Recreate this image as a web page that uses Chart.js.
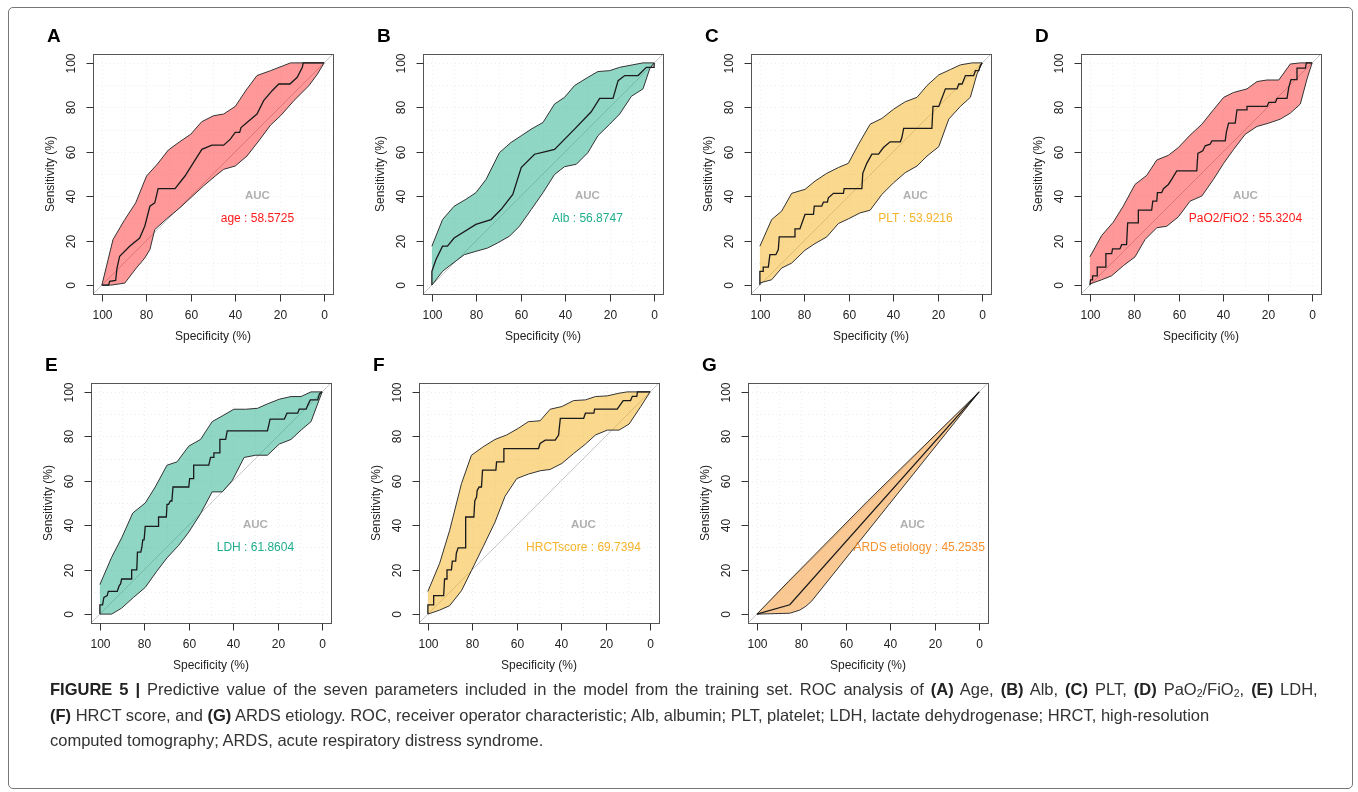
<!DOCTYPE html>
<html>
<head>
<meta charset="utf-8">
<script src="https://cdn.jsdelivr.net/npm/chart.js@4.4.1/dist/chart.umd.min.js"></script>
<style>
  body { margin: 0; background: #fff; width: 1358px; height: 792px; overflow: hidden; position: relative; font-family: "Liberation Sans", Arial, sans-serif; }
  .frame { position: absolute; left: 8px; top: 7px; width: 1345px; height: 782px; border: 1px solid #777; border-radius: 5px; box-sizing: border-box; }
  canvas { position: absolute; }
  .caption { position: absolute; left: 50px; top: 677px; font-size: 16.5px; line-height: 25.5px; color: #333; white-space: nowrap; }
  .caption b { color: #222; }
  .caption .l1 { word-spacing: 2.4px; }
  .caption sub { font-size: 10.5px; vertical-align: -2px; line-height: 0; }
</style>
</head>
<body>
<div class="frame"></div>
<canvas id="pA" width="330" height="340"></canvas>
<canvas id="pB" width="330" height="340"></canvas>
<canvas id="pC" width="330" height="340"></canvas>
<canvas id="pD" width="330" height="340"></canvas>
<canvas id="pE" width="330" height="340"></canvas>
<canvas id="pF" width="330" height="340"></canvas>
<canvas id="pG" width="330" height="340"></canvas>

<div class="caption">
  <div class="l1"><b>FIGURE 5 |</b> Predictive value of the seven parameters included in the model from the training set. ROC analysis of <b>(A)</b> Age, <b>(B)</b> Alb, <b>(C)</b> PLT, <b>(D)</b> PaO<sub>2</sub>/FiO<sub>2</sub>, <b>(E)</b> LDH,</div>
  <div><b>(F)</b> HRCT score, and <b>(G)</b> ARDS etiology. ROC, receiver operator characteristic; Alb, albumin; PLT, platelet; LDH, lactate dehydrogenase; HRCT, high-resolution</div>
  <div>computed tomography; ARDS, acute respiratory distress syndrome.</div>
</div>

<script>
// ---- data: [specificity, sensitivity] in % ----
const panelLetters = ['A', 'B', 'C', 'D', 'E', 'F', 'G'];
const markerNames = ['age', 'Alb', 'PLT', 'PaO2/FiO2', 'LDH', 'HRCTscore', 'ARDS etiology'];
const aucValues = [58.5725, 56.8747, 53.9216, 55.3204, 61.8604, 69.7394, 45.2535];
const xTicks = [100, 80, 60, 40, 20, 0];
const yTicks = [0, 20, 40, 60, 80, 100];

const ageRoc = [[100,0],[97,0],[96.5,1.7],[93.8,2.1],[93.2,7.7],[92,13],[87.5,17.5],[83,21.2],[80.7,26.5],[78.4,35.5],[76.2,37],[74.7,43.4],[67.1,43.4],[62.6,49.1],[58.8,55.1],[55,61.1],[50.5,63],[45.2,63],[42.2,65.7],[40,68.7],[38,68.7],[37.4,70.9],[34.7,73.2],[30.2,77],[27.2,83],[23.4,87.5],[20.4,90.5],[15.4,90.5],[12.1,93.5],[9.8,98],[9.4,100],[0,100]];
const ageHigh = [[100,0],[95,20.5],[90,29],[84.8,37],[79.9,49.1],[75,54.5],[70.1,60.8],[65,64.5],[60,67.9],[55.1,73.5],[49.8,76.2],[45.2,77],[40,80.4],[34.7,88.3],[30.2,94.3],[24.1,96.5],[15.1,100],[0,100]];
const ageLow = [[100,0],[96,0],[89.7,0.9],[84.5,7.7],[80.7,12.2],[78.4,16],[76.2,25],[70.9,29.8],[64.9,34.8],[54.3,44.6],[49,49.1],[45.2,52.1],[40,53.6],[34.7,58.1],[29.4,64.9],[24.1,72],[19.6,76.2],[13.6,83],[6.8,89.8],[3,95],[0,100]];

const albRoc = [[100,0],[100,6.2],[98.2,11.4],[95.2,17.5],[93,17.5],[90,21.2],[80.2,27.3],[73.4,29.5],[68.9,34],[63.6,40.8],[59.8,52.9],[53.8,58.9],[49.3,60],[44.8,61.1],[35.8,70.2],[28.3,78],[24.5,84],[18.5,84],[16.2,92],[13.2,94.3],[7.2,94.3],[3.5,98],[0,98],[0,100]];
const albHigh = [[100,17.5],[95.2,29.5],[90,35.5],[84.7,38.6],[80.2,41.6],[75.6,47.6],[69.6,59.6],[64.4,64.2],[59.8,67.2],[55.3,70.2],[50,73.2],[44.8,81.5],[40.3,84.5],[35.8,89.8],[29.8,93.5],[25.3,96.1],[20,96.5],[15.5,98],[5,100],[0,100]];
const albLow = [[100,0],[95.2,6.2],[91.4,9.2],[85.4,13.7],[80.2,15.2],[74.9,16.7],[70.4,19],[65.1,22],[60.6,26.5],[55.3,34],[50,41.6],[44.8,49.8],[40.3,53.3],[35,54.4],[29.8,59.6],[25.3,67.2],[20,72.4],[15.5,77],[10.2,85],[5,88.3],[2,97.3],[0,100]];

const pltRoc = [[100,0],[100,6.2],[98.5,6.2],[98.5,8.1],[96.2,8.1],[95.5,13.7],[92.8,13.7],[91.7,16],[91.3,21.7],[84.2,21.7],[84.2,25.3],[82,25.3],[79.7,31.8],[75.9,31.8],[75.5,35.5],[72.2,35.5],[71.4,37.3],[69.6,37.3],[69.2,39.3],[66.9,41.3],[62.4,41.3],[62.1,43.4],[54.1,43.4],[53.7,50.3],[51.9,54.8],[49.6,58.9],[46.6,58.9],[44.4,61.9],[41.4,64.5],[36.8,64.5],[36.1,66.4],[35.3,70.5],[22.6,70.5],[22.1,80.4],[19.5,80.4],[16.5,88.3],[11.3,88.3],[10.5,90.5],[9,90.5],[7.5,94.3],[3.8,94.3],[3,96.5],[1.5,96.5],[0.8,98.8],[0,100]];
const pltHigh = [[100,17.5],[94.7,29.5],[90.2,33.3],[85.7,41.3],[79.7,43.1],[75.2,46.8],[69.9,50.3],[64.7,52.9],[60.2,54.8],[55.6,63.4],[50.4,72.4],[45.1,75],[39.8,79.2],[34.6,82.5],[29.3,84.5],[24.8,89.8],[19.5,94.6],[14.3,97],[9.8,99.1],[4.5,100],[0,100]];
const pltLow = [[100,1],[94.7,2.4],[90.2,7.7],[85.7,9.9],[79.7,15.7],[75.2,18.7],[69.9,21.7],[64.7,27.7],[60.2,29.8],[54.9,32.5],[50.4,33.7],[45.1,40.8],[39.8,46.1],[34.6,50.6],[29.3,53.6],[24.8,58.1],[19.5,62.3],[15,74.7],[9.8,80.4],[5.3,84.5],[2.3,95],[0,100]];

const pfRoc = [[100,0],[99.7,2.4],[98.8,2.4],[98.8,4.2],[96.7,4.2],[96.7,8.1],[93.2,8.1],[92.8,14.2],[90.2,14.2],[89.8,16.3],[86.5,16.3],[85.7,18.2],[83.5,18.2],[83,28],[78.2,28],[78.2,33.7],[72.2,33.7],[71.7,37.8],[69.9,37.8],[69.6,41.6],[67.7,41.6],[66.9,43.4],[64.7,45.3],[63.2,47.6],[60.9,51.4],[51.9,51.4],[51.4,59.3],[49.2,60.4],[48.1,62.7],[45.9,63.4],[45.1,64.9],[39.1,64.9],[38.6,68.7],[37.6,72.9],[34.6,72.9],[33.8,78.9],[29.3,78.9],[29.3,80.4],[20.3,80.4],[19.5,82.2],[16.5,82.2],[15.8,84],[11.3,84],[10.5,89],[9.5,92.5],[6.8,92.5],[6.8,97.6],[3,97.6],[2.6,100],[0,100]];
const pfHigh = [[100,12.7],[94.7,22.3],[89.5,28.3],[85,35.5],[79.7,45.3],[74.4,49.4],[69.9,56.3],[64.7,58.4],[60.2,61.9],[54.9,67.5],[49.6,72.4],[44.4,78.9],[39.8,84.5],[35.3,86.7],[29.3,88.3],[24.8,91.6],[20.3,92.3],[15,92.3],[9.8,99.5],[5.3,100],[0,100]];
const pfLow = [[100,0.5],[94.7,2.4],[90.2,4.2],[85,8.7],[79.7,12.7],[75.2,20.5],[69.9,25.8],[65.4,26.5],[60.2,30.7],[54.9,37.8],[49.6,40.1],[44.4,47.6],[39.8,54.8],[35.3,61.1],[30.1,67.9],[24.8,71.4],[19.5,72.9],[14.3,74.7],[9.8,77.4],[5.3,81.5],[2.3,92.8],[0,100]];

const ldhRoc = [[100,0],[100,4.2],[98.8,4.2],[98.2,7.5],[96.7,8.3],[96.2,10.2],[92.2,10.2],[91.3,12.8],[90.7,13.6],[90.2,15.8],[85.7,15.8],[85.7,19.9],[83.4,19.9],[83.1,27.9],[81.6,27.9],[81.1,30.1],[80.7,33.4],[80.1,33.4],[79.6,39.5],[73.6,39.5],[73.6,43.7],[70.1,43.7],[69.8,49.4],[69.1,49.4],[68.3,50.9],[67.6,50.9],[67.1,57.2],[60,57.2],[59.6,61],[58.1,61],[57.8,67],[51,67],[50.2,70.5],[49,70.5],[48.7,72.6],[46.4,72.6],[46,78.6],[43.4,78.6],[42.7,82.5],[24.6,82.5],[23.4,87.7],[17,87.7],[15.8,90.4],[11,90.4],[10.3,92.2],[7.2,92.2],[6.2,94.6],[5.3,96.4],[2,96.4],[1.2,99.1],[0,100]];
const ldhHigh = [[100,13.3],[94.7,25.6],[90.2,34.3],[85.2,45.5],[79.6,50],[75.1,57.2],[69.8,67],[65.3,68.5],[60,75.6],[54.7,78.6],[49.5,86.6],[44.2,89.6],[39.7,92.2],[34.4,92.2],[29.1,92.6],[24.6,94.6],[19.3,96.7],[14,97.9],[9.5,97.9],[5,100],[0,100]];
const ldhLow = [[100,0],[94.7,0],[90.2,2.7],[84.9,7.5],[79.6,12],[74.4,19.3],[69.8,25.3],[64.6,30.9],[60,36.9],[54.7,45.2],[49.5,55],[44.9,55],[40.4,60.2],[35.1,70.5],[29.9,71.5],[24.6,71.5],[19.3,76.5],[14,78.6],[9.5,82.8],[5,86.6],[0,100]];

const hrctRoc = [[100,0],[100,4.2],[97.4,4.2],[97.4,8.3],[92.9,8.3],[92.5,15.8],[91.4,15.8],[91.4,19.9],[89.4,19.9],[89,23.8],[87.5,23.8],[87.2,27.4],[86.4,29.8],[83,29.8],[83,43.7],[79.3,43.7],[78.9,50.9],[78.1,52.7],[77.8,55.7],[76.9,57.2],[75.9,57.2],[75.4,64.8],[69.4,64.8],[69.1,68.5],[65.8,68.5],[65.8,74.5],[50.2,74.5],[49.5,76.8],[47.2,78.3],[42.7,78.3],[41.2,80.6],[40.4,88.1],[29.9,88.1],[29.1,90.4],[25.3,90.4],[25,92.2],[14.8,92.2],[12.1,96.1],[8.8,96.1],[8,98],[6,98],[5.7,100],[0,100]];
const hrctHigh = [[100,10.2],[94.7,22.9],[90.2,37.7],[84.9,58.7],[80.4,71.5],[75.1,75.3],[69.8,78.6],[64.6,80.6],[59.3,83.6],[54.8,86.6],[49.5,87],[45,92.2],[39.7,93.4],[34.4,96.1],[29.1,96.4],[24.6,97.9],[19.3,98.2],[14,99.4],[10.3,100],[0,100]];
const hrctLow = [[100,0],[94.7,1.8],[90.2,3.8],[84.9,10.5],[80.4,19.6],[75.1,30.4],[69.8,41.4],[65.3,53],[60,61],[54.8,63],[49.5,64.5],[45,65.1],[39.7,67.8],[34.4,72.3],[29.1,76.5],[24.6,80.6],[19.3,82.8],[14,82.8],[9.5,85.5],[4.2,93.4],[0,100]];

const ardsRoc = [[100,0],[85.2,4.2],[0,100]];
const ardsHigh = [[100,0],[86,14.5],[50,51],[0,100]];
const ardsLow = [[100,0],[85.2,0.4],[80.7,1.8],[78,3.5],[75.4,5.8],[0,100]];

const rocCurves = [ageRoc, albRoc, pltRoc, pfRoc, ldhRoc, hrctRoc, ardsRoc];
const ciHigh = [ageHigh, albHigh, pltHigh, pfHigh, ldhHigh, hrctHigh, ardsHigh];
const ciLow = [ageLow, albLow, pltLow, pfLow, ldhLow, hrctLow, ardsLow];

// ---- styles / layout ----
const boxes = [[93,54],[423,54],[751,54],[1081,54],[91,383],[419,383],[748,383]];
const fills = ['rgba(255,0,0,0.4)','rgba(31,173,140,0.5)','rgba(245,178,30,0.5)','rgba(255,0,0,0.4)','rgba(31,173,140,0.5)','rgba(245,178,30,0.5)','rgba(245,145,40,0.5)'];
const textColors = ['#ff1a1a','#1fae8c','#f5b42a','#ff1a1a','#1fae8c','#f5b42a','#f7922e'];
const labelX = [30, 30, 30, 30, 30, 30, 27];
const FONT = '"Liberation Sans", Arial, sans-serif';
const PAD = { left: 70, top: 40, right: 20, bottom: 60 };

const rAxes = {
  id: 'rAxes',
  beforeDatasetsDraw(chart) {
    const { ctx, chartArea: a, scales: { x, y } } = chart;
    ctx.save();
    ctx.strokeStyle = '#ededed';
    ctx.lineWidth = 1;
    ctx.setLineDash([1, 3]);
    for (let v = 0; v <= 100; v += 10) {
      const px = Math.round(x.getPixelForValue(v)) + 0.5;
      const py = Math.round(y.getPixelForValue(v)) + 0.5;
      ctx.beginPath(); ctx.moveTo(px, a.top); ctx.lineTo(px, a.bottom); ctx.stroke();
      ctx.beginPath(); ctx.moveTo(a.left, py); ctx.lineTo(a.right, py); ctx.stroke();
    }
    ctx.restore();
  },
  afterDraw(chart, args, opts) {
    const { ctx, chartArea: a, scales: { x, y } } = chart;
    ctx.save();
    // box
    ctx.strokeStyle = '#555';
    ctx.lineWidth = 1;
    ctx.strokeRect(Math.round(a.left) + 0.5, Math.round(a.top) + 0.5, Math.round(a.right - a.left), Math.round(a.bottom - a.top));
    // ticks
    ctx.strokeStyle = '#333';
    ctx.fillStyle = '#222';
    ctx.font = '12px ' + FONT;
    ctx.textAlign = 'center';
    ctx.textBaseline = 'middle';
    const bx = Math.round(a.left) + 0.5, by = Math.round(a.bottom) + 0.5;
    yTicks.forEach(v => {
      const py = Math.round(y.getPixelForValue(v)) + 0.5;
      ctx.beginPath(); ctx.moveTo(bx, py); ctx.lineTo(bx - 7, py); ctx.stroke();
      ctx.save(); ctx.translate(a.left - 21, py); ctx.rotate(-Math.PI / 2); ctx.fillText(String(v), 0, 0); ctx.restore();
    });
    xTicks.forEach(v => {
      const px = Math.round(x.getPixelForValue(v)) + 0.5;
      ctx.beginPath(); ctx.moveTo(px, by); ctx.lineTo(px, by + 7); ctx.stroke();
      ctx.fillText(String(v), px, a.bottom + 22);
    });
    ctx.fillText('Specificity (%)', (a.left + a.right) / 2, a.bottom + 43);
    ctx.save(); ctx.translate(a.left - 42, (a.top + a.bottom) / 2); ctx.rotate(-Math.PI / 2);
    ctx.fillText('Sensitivity (%)', 0, 0); ctx.restore();
    // panel letter
    ctx.font = 'bold 19px ' + FONT;
    ctx.fillStyle = '#000';
    ctx.textAlign = 'left';
    ctx.textBaseline = 'alphabetic';
    ctx.fillText(opts.letter, a.left - 46, a.top - 12);
    // AUC text
    ctx.textAlign = 'center';
    ctx.textBaseline = 'middle';
    ctx.font = 'bold 11.5px ' + FONT;
    ctx.fillStyle = '#b0b0b0';
    ctx.fillText('AUC', x.getPixelForValue(30), y.getPixelForValue(40));
    ctx.font = '12px ' + FONT;
    ctx.fillStyle = opts.color;
    ctx.fillText(opts.label, x.getPixelForValue(opts.labelX), y.getPixelForValue(30));
    ctx.restore();
  }
};

const toPts = arr => arr.map(([sx, se]) => ({ x: sx, y: se }));

panelLetters.forEach((letter, i) => {
  const cv = document.getElementById('p' + letter);
  cv.style.left = (boxes[i][0] - PAD.left) + 'px';
  cv.style.top = (boxes[i][1] - PAD.top) + 'px';
  const band = ciHigh[i].concat(ciLow[i].slice().reverse());
  new Chart(cv, {
    type: 'scatter',
    data: {
      datasets: [
        { data: toPts(rocCurves[i]), showLine: true, borderColor: '#1a1a1a', borderWidth: 1.3, pointRadius: 0, fill: false, order: 0 },
        { data: toPts(band), showLine: true, fill: 'shape', backgroundColor: fills[i], borderColor: '#333', borderWidth: 1, pointRadius: 0, order: 1 },
        { data: toPts([[104, -4], [-4, 104]]), showLine: true, borderColor: '#c6c6c6', borderWidth: 1, pointRadius: 0, fill: false, order: 2 }
      ]
    },
    options: {
      responsive: false,
      animation: false,
      events: [],
      layout: { padding: PAD },
      scales: {
        x: { type: 'linear', reverse: true, min: -4, max: 104, display: false },
        y: { type: 'linear', min: -4, max: 104, display: false }
      },
      plugins: {
        legend: { display: false },
        tooltip: { enabled: false },
        rAxes: { letter, color: textColors[i], label: markerNames[i] + ' : ' + aucValues[i].toFixed(4), labelX: labelX[i] }
      }
    },
    plugins: [rAxes]
  });
});
</script>
</body>
</html>
